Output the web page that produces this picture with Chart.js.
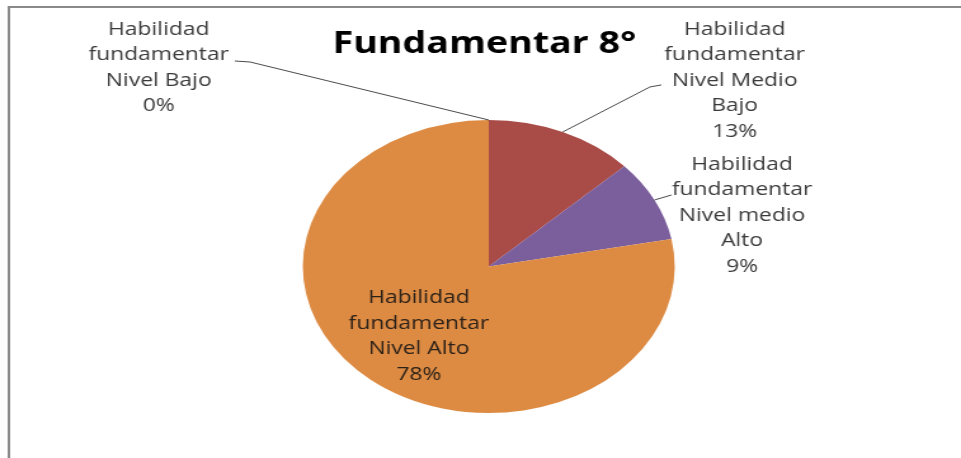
<!DOCTYPE html>
<html>
<head>
<meta charset="utf-8">
<script src="https://cdn.jsdelivr.net/npm/chart.js@4/dist/chart.umd.min.js"></script>
<style>
  html, body { margin: 0; padding: 0; background: #fff; overflow: hidden; }
  #wrap { width: 757px; height: 458px; transform: scaleX(1.2695); transform-origin: 0 0; }
</style>
</head>
<body>
<div id="wrap"><canvas id="grafico" width="757" height="458"></canvas></div>
<script>
const titulo = 'Fundamentar 8°'
const categorias = [
  ['Habilidad', 'fundamentar', 'Nivel Bajo'],
  ['Habilidad', 'fundamentar', 'Nivel Medio', 'Bajo'],
  ['Habilidad', 'fundamentar', 'Nivel medio', 'Alto'],
  ['Habilidad', 'fundamentar', 'Nivel Alto']
]
const porcentajes = [0, 13, 9, 78]
const colores = ['#4f81bd', '#a94b47', '#7b5e9c', '#dd8b43']

// donde va cada etiqueta respecto al borde de su porcion
const etiquetas = [
  { dx: -260, dy: -52, codo: [72, -6], fin: [60, -7] },
  { dx: 135.5, dy: -51.6, codo: [-66.7, 6.5], fin: [-57.7, 4.5] },
  { dx: 69, dy: 15.5, codo: null, fin: [-55.6, -20.5] },
  { dentro: 0.6, dx: 1, dy: 2 }
]

const fuente = '"Open Sans", sans-serif'
const altoLinea = 25.5

const marco = {
  id: 'marco',
  beforeDraw(chart) {
    const c = chart.ctx
    c.save()
    c.strokeStyle = '#8a8a8a'
    c.lineWidth = 2
    c.beginPath()
    c.moveTo(7, 460)
    c.lineTo(7, 7)
    c.lineTo(760, 7)
    c.stroke()
    c.restore()
  },
  afterDraw(chart) {
    const c = chart.ctx
    c.save()
    c.fillStyle = '#000'
    c.textAlign = 'center'
    c.textBaseline = 'middle'
    c.font = 'bold 33px ' + fuente
    const w = c.measureText(titulo).width
    c.font = 'bold ' + (33 * 239 / w).toFixed(1) + 'px ' + fuente
    c.fillText(titulo, 381.5, 45)
    c.restore()
  }
}

const rotulos = {
  id: 'rotulos',
  afterDatasetsDraw(chart) {
    const c = chart.ctx
    const arcos = chart.getDatasetMeta(0).data
    c.save()
    c.font = '18px ' + fuente
    c.textAlign = 'center'
    c.textBaseline = 'middle'
    arcos.forEach((arco, i) => {
      const p = arco.getProps(['x', 'y', 'startAngle', 'endAngle', 'outerRadius'], true)
      const medio = (p.startAngle + p.endAngle) / 2
      const conf = etiquetas[i]
      const r = p.outerRadius * (conf.dentro || 1)
      const ax = p.x + Math.cos(medio) * r
      const ay = p.y + Math.sin(medio) * r
      const cx = ax + conf.dx
      const cy = ay + conf.dy
      const lineas = categorias[i].concat([porcentajes[i] + '%'])

      if (conf.fin) {
        c.strokeStyle = '#4a4a4a'
        c.lineWidth = 1
        c.beginPath()
        c.moveTo(ax, ay)
        if (conf.codo) c.lineTo(cx + conf.codo[0], cy + conf.codo[1])
        c.lineTo(cx + conf.fin[0], cy + conf.fin[1])
        c.stroke()
      }

      c.fillStyle = conf.dentro ? '#2b2118' : '#3a3a3a'
      const y0 = cy - (lineas.length - 1) * altoLinea / 2
      lineas.forEach((t, k) => c.fillText(t, cx, y0 + k * altoLinea))
    })
    c.restore()
  }
}

new Chart(document.getElementById('grafico'), {
  type: 'pie',
  data: {
    labels: categorias,
    datasets: [{
      data: porcentajes,
      backgroundColor: colores,
      borderWidth: 0
    }]
  },
  options: {
    responsive: false,
    animation: false,
    layout: { padding: { top: 120, bottom: 45, left: 238.5, right: 225.5 } },
    plugins: {
      legend: { display: false },
      tooltip: { enabled: false }
    }
  },
  plugins: [marco, rotulos]
})
</script>
</body>
</html>
